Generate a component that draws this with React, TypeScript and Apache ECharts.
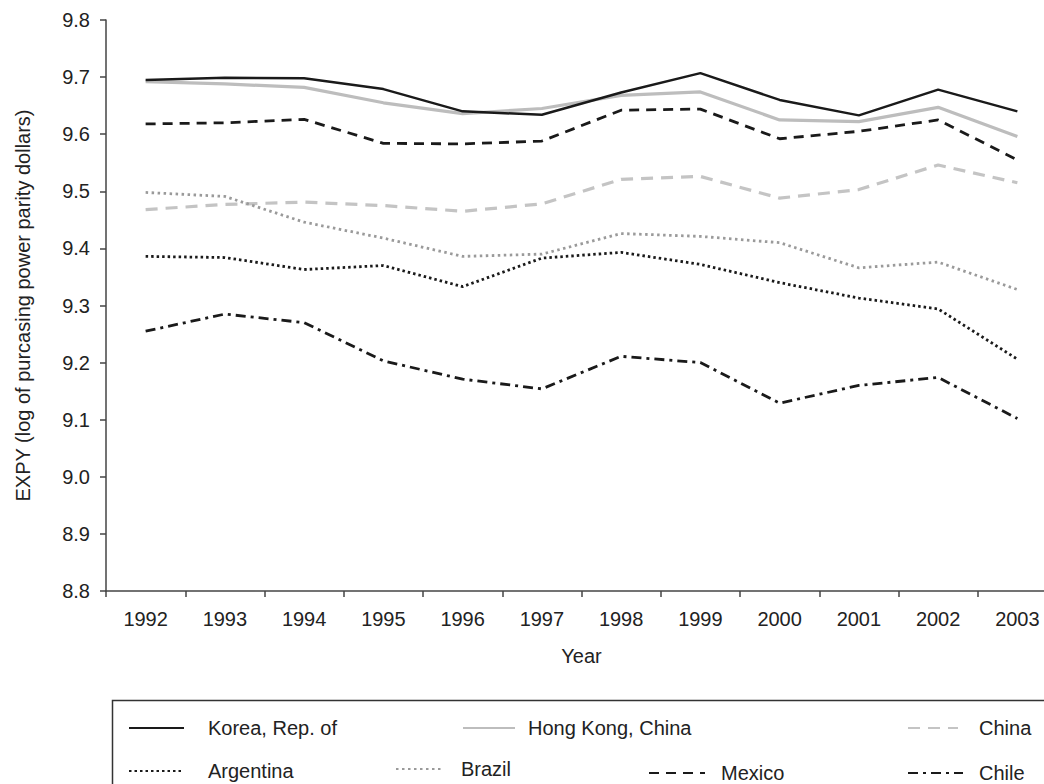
import React, { useEffect, useRef } from "react";
import * as echarts from "echarts";

const years = ["1992", "1993", "1994", "1995", "1996", "1997", "1998", "1999", "2000", "2001", "2002", "2003"];
const korea = [9.695, 9.699, 9.698, 9.679, 9.640, 9.634, 9.673, 9.707, 9.660, 9.633, 9.678, 9.640];
const hongKong = [9.692, 9.688, 9.682, 9.655, 9.636, 9.645, 9.668, 9.674, 9.625, 9.622, 9.647, 9.596];
const china = [9.468, 9.477, 9.481, 9.475, 9.465, 9.478, 9.521, 9.526, 9.488, 9.503, 9.546, 9.515];
const argentina = [9.386, 9.384, 9.363, 9.370, 9.333, 9.383, 9.393, 9.372, 9.340, 9.313, 9.294, 9.206];
const brazil = [9.498, 9.491, 9.446, 9.418, 9.386, 9.390, 9.426, 9.421, 9.410, 9.366, 9.376, 9.328];
const mexico = [9.618, 9.620, 9.626, 9.584, 9.583, 9.588, 9.642, 9.644, 9.592, 9.605, 9.625, 9.555];
const chile = [9.255, 9.285, 9.270, 9.203, 9.171, 9.154, 9.211, 9.200, 9.129, 9.160, 9.174, 9.102];

const FONT = "Liberation Sans, Arial, sans-serif";
const TXT = "#222";
const FS = 20;

export default function App() {
  const ref = useRef<HTMLDivElement>(null);
  useEffect(() => {
    if (!ref.current) return;
    const chart = echarts.init(ref.current, undefined, { renderer: "svg" });
    const mkSeries = (name: string, data: number[], color: string, width: number, type: any, z = 2) => ({
      name,
      type: "line",
      data,
      symbol: "none",
      z,
      lineStyle: { color, width, type, cap: "butt" },
      itemStyle: { color },
    });
    const mkLegend = (name: string, left: number, top: number, len: number, pad: number) => ({
      data: [name],
      left,
      top: top - 7,
      itemWidth: len,
      itemHeight: 14,
      selectedMode: false,
      padding: 0,
      itemStyle: { opacity: 0, borderWidth: 0 },
      textStyle: { fontFamily: FONT, fontSize: FS, color: TXT, padding: [0, 0, 0, pad] },
    });
    chart.setOption({
      animation: false,
      backgroundColor: "#fff",
      textStyle: { fontFamily: FONT },
      grid: { left: 106, top: 20, width: 951, height: 571, containLabel: false },
      xAxis: {
        type: "category",
        data: years,
        boundaryGap: true,
        name: "Year",
        nameLocation: "middle",
        nameGap: 55,
        nameTextStyle: { fontFamily: FONT, fontSize: FS, color: TXT },
        axisLine: { lineStyle: { color: "#444", width: 1.5 } },
        axisTick: { show: true, length: 6, alignWithLabel: false, lineStyle: { color: "#444", width: 1.5 } },
        axisLabel: { fontFamily: FONT, fontSize: FS, color: TXT, margin: 18 },
        splitLine: { show: false },
      },
      yAxis: {
        type: "value",
        min: 8.8,
        max: 9.8,
        interval: 0.1,
        name: "EXPY (log of purcasing power parity dollars)",
        nameLocation: "middle",
        nameGap: 73,
        nameRotate: 90,
        nameTextStyle: { fontFamily: FONT, fontSize: FS, color: TXT },
        axisLine: { show: true, lineStyle: { color: "#444", width: 1.5 } },
        axisTick: { show: true, length: 6, lineStyle: { color: "#444", width: 1.5 } },
        axisLabel: { fontFamily: FONT, fontSize: FS, color: TXT, margin: 16, formatter: (v: number) => v.toFixed(1) },
        splitLine: { show: false },
      },
      legend: [
        mkLegend("Korea, Rep. of", 128, 725, 55, 19),
        mkLegend("Hong Kong, China", 462, 725, 52, 8),
        mkLegend("China", 907, 725, 50, 16),
        mkLegend("Argentina", 128, 768, 55, 19),
        mkLegend("Brazil", 395, 766, 45, 15),
        mkLegend("Mexico", 648, 770, 56, 11),
        mkLegend("Chile", 907, 770, 55, 11),
      ],
      graphic: [
        {
          type: "rect",
          shape: { x: 112.5, y: 700.5, width: 1000, height: 200 },
          style: { fill: "none", stroke: "#333", lineWidth: 1.5 },
          silent: true,
        },
      ],
      series: [
        mkSeries("Hong Kong, China", hongKong, "#bdbdbd", 3.2, "solid"),
        mkSeries("Korea, Rep. of", korea, "#1a1a1a", 2.5, "solid", 3),
        mkSeries("China", china, "#c4c4c4", 3.2, [12, 8]),
        mkSeries("Mexico", mexico, "#1a1a1a", 2.8, [10, 7]),
        mkSeries("Brazil", brazil, "#9a9a9a", 2.8, [2.5, 3.5]),
        mkSeries("Argentina", argentina, "#1a1a1a", 2.8, [2.5, 3]),
        mkSeries("Chile", chile, "#1a1a1a", 2.8, [10, 5, 3, 5]),
      ],
    });
    return () => chart.dispose();
  }, []);
  return (
    <div style={{ position: "absolute", left: 0, top: 0, width: 1044, height: 784, overflow: "hidden", background: "#fff" }}>
      <div ref={ref} style={{ width: 1070, height: 784 }} />
    </div>
  );
}
